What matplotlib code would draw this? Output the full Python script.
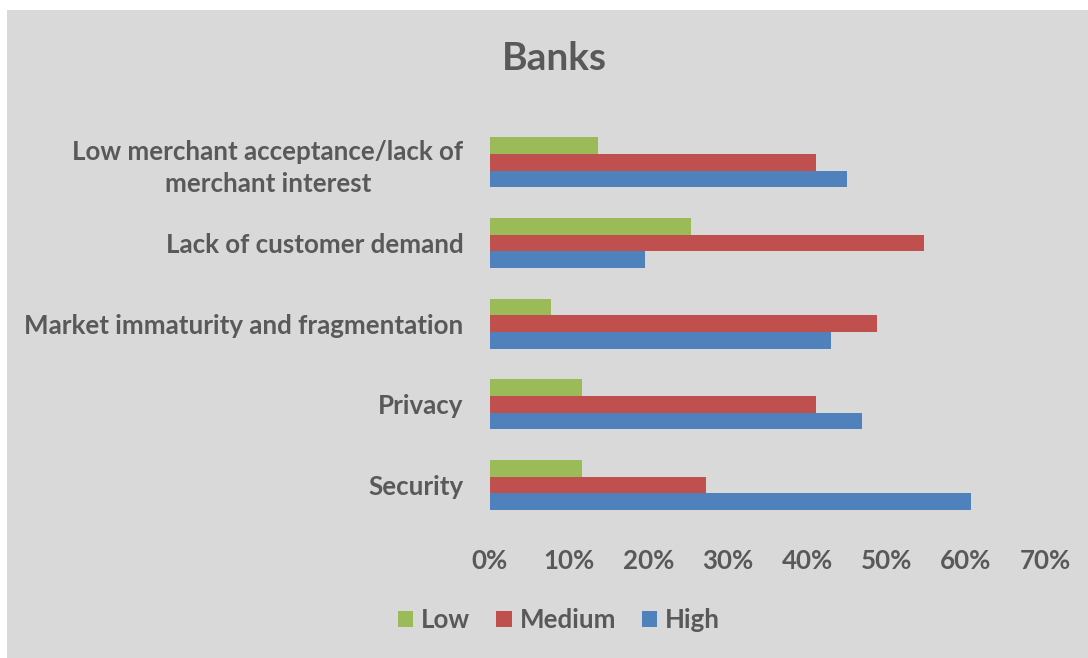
import matplotlib
matplotlib.use("Agg")
import matplotlib.pyplot as plt
from matplotlib.patches import Rectangle, Patch
from matplotlib.ticker import FuncFormatter, MultipleLocator

# Data (percent of banks), categories listed bottom to top
categories = [
    "Security",
    "Privacy",
    "Market immaturity and fragmentation",
    "Lack of customer demand",
    "Low merchant acceptance/lack of\nmerchant interest",
]
low = [11.6, 11.6, 7.7, 25.3, 13.6]
medium = [27.3, 41.1, 48.8, 54.8, 41.1]
high = [60.7, 46.9, 43.0, 19.5, 45.0]
series_names = ["Low", "Medium", "High"]
title = "Banks"

colors = {"Low": "#9BBB59", "Medium": "#C0504D", "High": "#4F81BD"}
text_color = "#595959"
bg = "#D9D9D9"

plt.rcParams["font.family"] = ["Lato", "DejaVu Sans"]
plt.rcParams["font.weight"] = "bold"

W, H = 1088, 658
fig = plt.figure(figsize=(W / 100, H / 100), dpi=100)
fig.patch.set_facecolor("white")
# grey chart area with a thin white margin on the left and top
fig.patches.append(Rectangle((7 / W, 0), 1 - 7 / W, 1 - 10 / H,
                             transform=fig.transFigure, facecolor=bg,
                             edgecolor="none", zorder=-10))

ax = fig.add_axes([490 / W, 1 - 525.4 / H, 555 / W, 403.4 / H])
ax.set_facecolor("none")

h = 0.207
ys = list(range(len(categories)))
ax.barh([y + h for y in ys], low, height=h, color=colors["Low"])
ax.barh(ys, medium, height=h, color=colors["Medium"])
ax.barh([y - h for y in ys], high, height=h, color=colors["High"])

ax.set_xlim(0, 70)
ax.set_ylim(-0.5, len(categories) - 0.5)
ax.xaxis.set_major_locator(MultipleLocator(10))
ax.xaxis.set_major_formatter(FuncFormatter(lambda v, p: f"{v:.0f}%"))
ax.set_yticks(ys)
ax.set_yticklabels(categories, multialignment="center", linespacing=1.4)

for s in ax.spines.values():
    s.set_visible(False)
ax.tick_params(axis="both", length=0, labelsize=18.6, labelcolor=text_color)
ax.tick_params(axis="y", pad=19)
ax.tick_params(axis="x", pad=17)
for lab in ax.get_xticklabels() + ax.get_yticklabels():
    lab.set_fontweight("bold")

fig.text(554 / W, 1 - 59 / H, title, ha="center", va="center",
         fontsize=28, fontweight="bold", color=text_color)

handles = [Patch(facecolor=colors[n], edgecolor="none") for n in series_names]
leg = fig.legend(handles, series_names, loc="center", ncol=3,
                 bbox_to_anchor=(559 / W, 1 - 620 / H), frameon=False,
                 prop={"size": 18.6, "weight": "bold"},
                 handlelength=0.6, handleheight=0.6, handletextpad=0.3,
                 columnspacing=1.0)
for t in leg.get_texts():
    t.set_color(text_color)

fig.savefig("out.png", dpi=100, facecolor=fig.get_facecolor())
